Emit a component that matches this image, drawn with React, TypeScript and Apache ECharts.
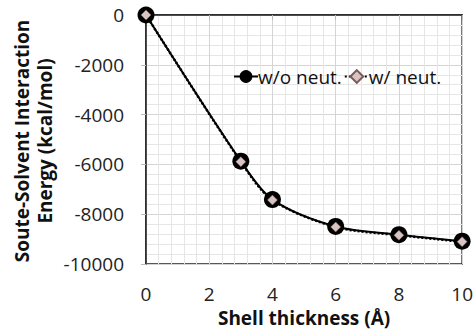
import React, { useEffect, useRef } from "react";
import * as echarts from "echarts";

const shellThickness = [0, 3, 4, 6, 8, 10];
const energyWithoutNeut = [0, -5870, -7410, -8490, -8820, -9080];
const energyWithNeut = [0, -5890, -7430, -8510, -8840, -9100];
const seriesNames = ["w/o neut.", "w/ neut."];
const xTitle = "Shell thickness (Å)";
const yTitleLines = ["Soute-Solvent Interaction", "Energy (kcal/mol)"];

const FONT = "Open Sans";

export default function App() {
  const ref = useRef<HTMLDivElement>(null);
  useEffect(() => {
    if (!ref.current) return;
    const chart = echarts.init(ref.current, undefined, { renderer: "svg" });
    const toPairs = (ys: number[]) => shellThickness.map((x, i) => [x, ys[i]]);
    chart.setOption({
      animation: false,
      backgroundColor: "#ffffff",
      textStyle: { fontFamily: FONT },
      grid: {
        left: 146,
        top: 15,
        right: 13,
        bottom: 67,
        show: true,
        borderColor: "#222",
        borderWidth: 1.5,
        backgroundColor: "transparent",
      },
      legend: {
        left: 228,
        top: 62,
        itemWidth: 24,
        itemHeight: 16,
        itemGap: 2,
        textStyle: { fontFamily: FONT, fontSize: 19, color: "#111", padding: [0, 0, 0, -5] },
        data: seriesNames,
      },
      xAxis: {
        type: "value",
        min: 0,
        max: 10,
        interval: 2,
        name: xTitle,
        nameLocation: "middle",
        nameGap: 40,
        nameTextStyle: { fontFamily: FONT, fontWeight: "bold", fontSize: 19, color: "#111" },
        axisLine: { show: true, lineStyle: { color: "#222", width: 1.5 } },
        axisTick: { show: true, length: 5, lineStyle: { color: "#bbb" } },
        axisLabel: { fontFamily: FONT, fontSize: 19, color: "#222", margin: 20, formatter: (v: number) => String(v) },
        splitLine: { show: true, lineStyle: { color: "#d4d4d4", width: 1 } },
        minorTick: { show: false, splitNumber: 5 },
        minorSplitLine: { show: true, lineStyle: { color: "#e6e6e6", width: 1 } },
      },
      yAxis: {
        type: "value",
        min: -10000,
        max: 0,
        interval: 2000,
        axisLine: { show: true, lineStyle: { color: "#222", width: 1.5 } },
        axisTick: { show: true, length: 5, lineStyle: { color: "#bbb" } },
        axisLabel: { fontFamily: FONT, fontSize: 19, color: "#222", margin: 22, formatter: (v: number) => String(v) },
        splitLine: { show: true, lineStyle: { color: "#d4d4d4", width: 1 } },
        minorTick: { show: false, splitNumber: 5 },
        minorSplitLine: { show: true, lineStyle: { color: "#e6e6e6", width: 1 } },
      },
      graphic: [
        {
          type: "text",
          x: 33,
          y: 141,
          rotation: Math.PI / 2,
          style: {
            text: yTitleLines.join("\n"),
            fontFamily: FONT,
            fontWeight: "bold",
            fontSize: 19,
            lineHeight: 23,
            fill: "#111",
            align: "center",
            verticalAlign: "middle",
          },
        },
      ],
      series: [
        {
          name: seriesNames[0],
          type: "line",
          data: toPairs(energyWithoutNeut),
          smooth: 0.3,
          clip: false,
          symbol: "circle",
          symbolSize: 17,
          itemStyle: { color: "#000" },
          lineStyle: { color: "#000", width: 2 },
          z: 2,
        },
        {
          name: seriesNames[1],
          type: "line",
          data: toPairs(energyWithNeut),
          smooth: 0.3,
          clip: false,
          symbol: "diamond",
          symbolSize: 10,
          itemStyle: { color: "#d9c4c4", borderColor: "#7a5a5a", borderWidth: 0.5 },
          lineStyle: { color: "#000", width: 2.5, type: [2, 2] },
          z: 3,
        },
      ],
    });
    return () => chart.dispose();
  }, []);
  return <div ref={ref} style={{ position: "fixed", left: 0, top: 0, width: 476, height: 332 }} />;
}
